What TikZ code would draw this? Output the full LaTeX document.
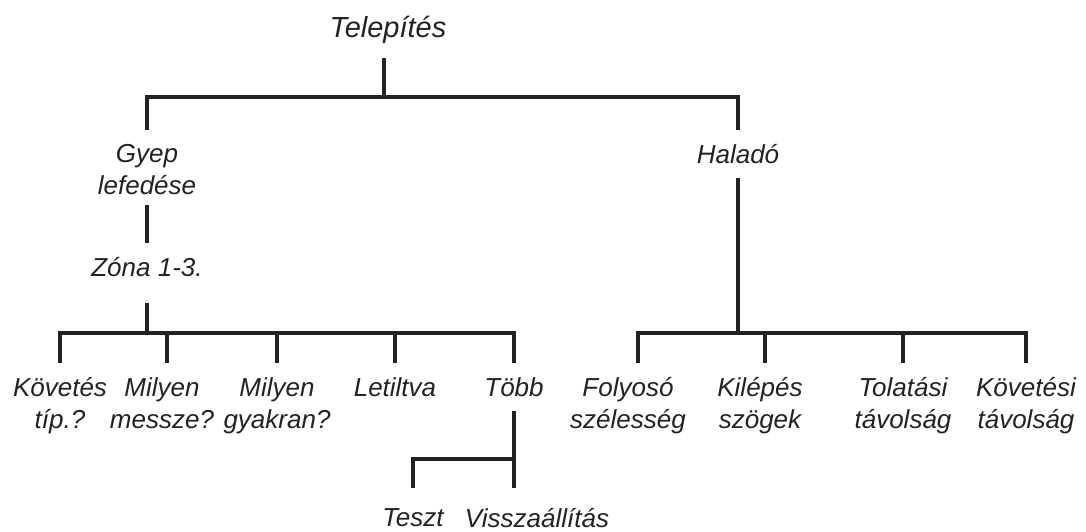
\documentclass[tikz,border=0pt]{standalone}
\usepackage{fontspec}
\setmainfont{Liberation Sans}
\usetikzlibrary{calc}
\definecolor{inkgray}{HTML}{222222}
\tikzset{
  treelabel/.style={font=\itshape\fontsize{13}{16}\selectfont, text=inkgray, align=center, inner xsep=0pt, inner ysep=7pt, anchor=north},
  treeroot/.style={treelabel, font=\itshape\fontsize{14.5}{17}\selectfont, anchor=south},
  treeleaf/.style={treelabel, inner ysep=10pt},
  branch/.style={draw=inkgray, line width=1.6pt}
}

\begin{document}
\begin{tikzpicture}[x=0.5pt, y=-0.5pt]
\useasboundingbox (0,0) rectangle (1086,531);
% top levels
\node[treeroot] (root) at (388,58) {Telepítés};
\node[treelabel] (gyep) at (147,130) {Gyep\\lefedése};
\node[treelabel] (zona) at (147,243) {Zóna 1-3.};
\node[treelabel] (halado) at (738,130) {Haladó};
% left row
\node[treelabel] (kovetes) at (60,363) {Követés\\típ.?};
\node[treelabel] (milyenm) at (162,363) {Milyen\\messze?};
\node[treelabel] (milyeng) at (277,363) {Milyen\\gyakran?};
\node[treelabel] (letiltva) at (395,363) {Letiltva};
\node[treelabel] (tobb) at (514,363) {Több};
% right row
\node[treelabel] (folyoso) at (628,363) {Folyosó\\szélesség};
\node[treelabel] (kilepes) at (760,363) {Kilépés\\szögek};
\node[treelabel] (tolatasi) at (903,363) {Tolatási\\távolság};
\node[treelabel] (kovetesi) at (1026,363) {Követési\\távolság};
% under több
\node[treeleaf] (teszt) at (413,488) {Teszt};
\node[treeleaf] (vissza) at (537,488) {Visszaállítás};
\coordinate (rootj) at (384,97);
\coordinate (zonaj) at (147,333);
\coordinate (haladoj) at (738,333);
\coordinate (tobbj) at (514,459);
\draw[branch] (rootj |- root.south) -- (rootj);
\draw[branch] (gyep.north) -- (gyep.north |- rootj) -- (halado.north |- rootj) -- (halado.north);
\draw[branch, shorten <=-2pt] (gyep.south) -- (zona.north);
\draw[branch, shorten <=6pt] (zona.south) -- (zonaj);
\draw[branch] (kovetes.north) -- (kovetes.north |- zonaj) -- (tobb.north |- zonaj) -- (tobb.north);
\draw[branch] ([xshift=2.5pt]milyenm.north) -- ([xshift=2.5pt]milyenm.north |- zonaj);
\draw[branch] (milyeng.north) -- (milyeng.north |- zonaj);
\draw[branch] (letiltva.north) -- (letiltva.north |- zonaj);
\draw[branch] (tobb.south) -- (tobb.south |- vissza.north);
\draw[branch] (teszt.north) -- (teszt.north |- tobbj) -- (tobbj);
\draw[branch] (halado.south) -- (haladoj);
\draw[branch] ([xshift=5pt]folyoso.north) -- ([xshift=5pt]folyoso.north |- haladoj) -- (kovetesi.north |- haladoj) -- (kovetesi.north);
\draw[branch] ([xshift=2.5pt]kilepes.north) -- ([xshift=2.5pt]kilepes.north |- haladoj);
\draw[branch] (tolatasi.north) -- (tolatasi.north |- haladoj);
\end{tikzpicture}
\end{document}
